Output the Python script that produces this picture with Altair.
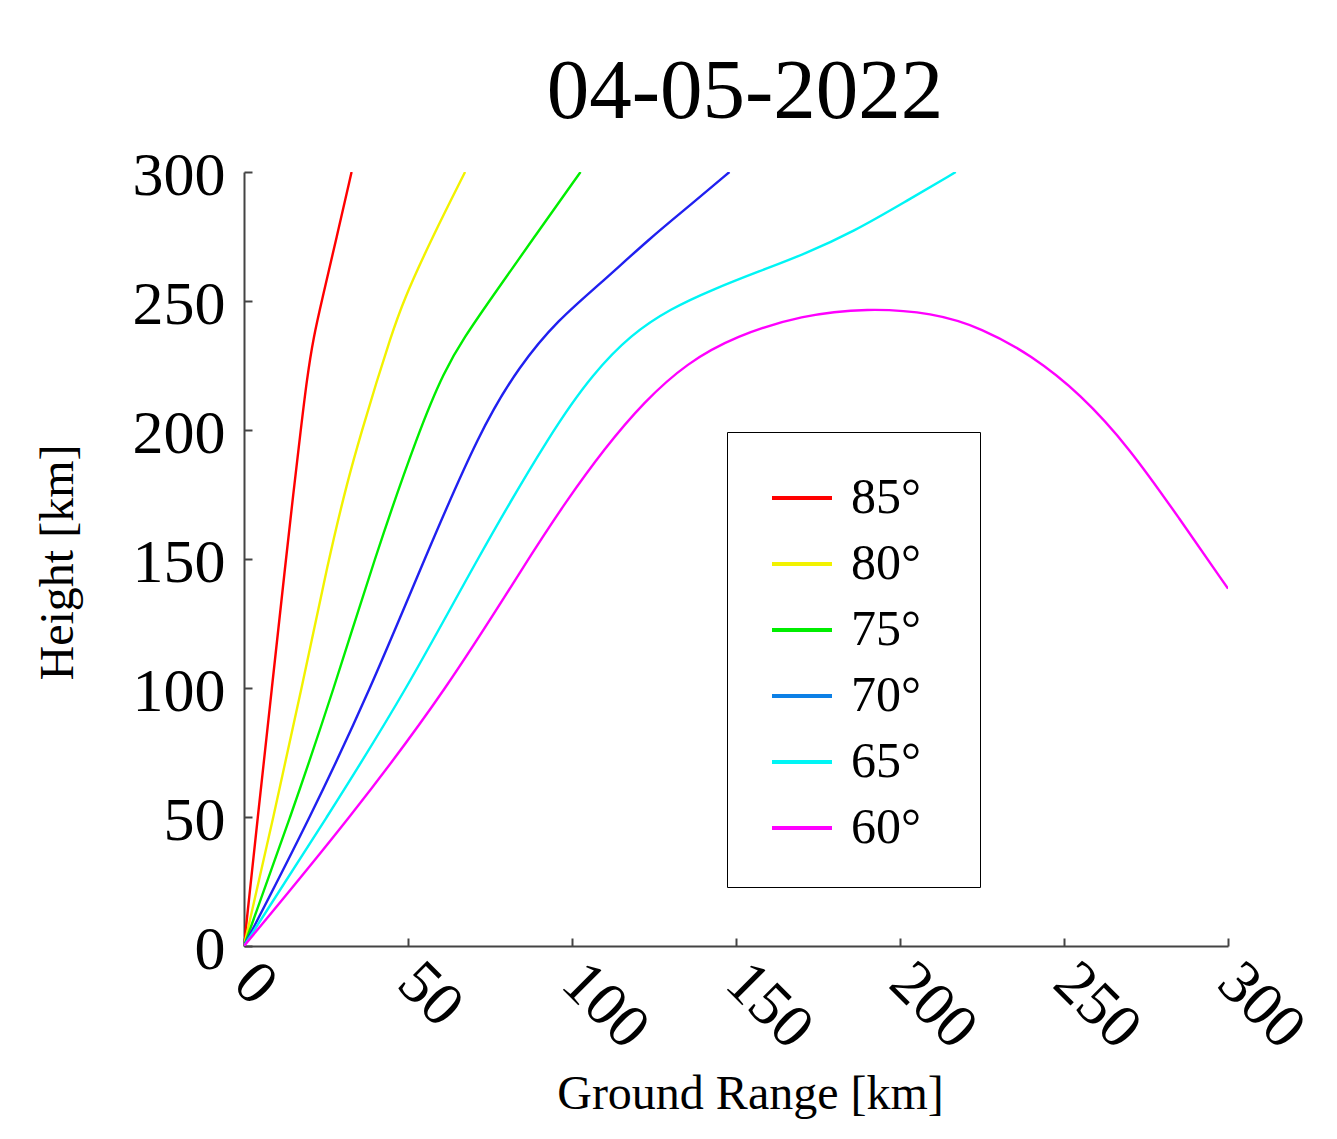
import altair as alt
import pandas as pd

FONT = "Liberation Serif"

title_text = ["04-05-2022"]

angles = ["85°", "80°", "75°", "70°", "65°", "60°"]
line_colors = ["#ff0000", "#f2f200", "#00ee00", "#2020f0", "#00f5f5", "#ff00ff"]
legend_colors = ["#ff0000", "#f2f200", "#00ee00", "#0d80e6", "#00f5f5", "#ff00ff"]

x85 = [0, 4.2, 8.5, 12.8, 15.0, 17.3, 19.2, 21.2, 23.7, 28.3, 32.8]
y85 = [0, 50, 100, 150, 175, 200, 220, 236, 250, 275, 300]

x80 = [0, 9.0, 17.6, 25.8, 31.5, 36.0, 40.5, 44.5, 48.5, 57.5, 67.4]
y80 = [0, 50, 100, 150, 180, 200, 219, 235, 250, 275, 300]

x75 = [0, 14.2, 27.5, 39.7, 53.4, 61.1, 67.2, 74.8, 88.6, 102.6]
y75 = [0, 50, 100, 150, 200, 223, 236, 250, 275, 300]

x70 = [0, 20.3, 38.7, 55.0, 72.0, 84.0, 96.0, 108.0, 124.0, 136.4, 148.0]
y70 = [0, 50, 100, 150, 200, 225, 243, 256, 274.6, 287.5, 300]

x65 = [0, 25.4, 49.9, 71.0, 94.0, 106.5, 118.0, 130.0, 143.0, 157.0, 171.0, 186.0, 201.0, 217.0]
y65 = [0, 50, 100, 150, 200, 222, 237, 247, 254.5, 261.5, 268.2, 277, 288, 300]

x60 = [0, 32.6, 62.1, 86.6, 98.0, 110.0, 122.0, 135.0, 150.0, 170.0, 190.0, 210.0,
       225.0, 240.0, 255.0, 270.0, 285.0, 300.0]
y60 = [0, 50, 100, 150, 172, 193, 211, 226, 236.5, 244.5, 247.3, 245.5,
       239.5, 229, 214, 193, 166, 138.5]

tick_vals = [0, 50, 100, 150, 200, 250, 300]

rows = []
for a, xs, ys in zip(angles, [x85, x80, x75, x70, x65, x60], [y85, y80, y75, y70, y65, y60]):
    for i, (xv, yv) in enumerate(zip(xs, ys)):
        rows.append({"angle": a, "range": xv, "height": yv, "i": i})
df = pd.DataFrame(rows)

xscale = alt.Scale(domain=[0, 300], nice=False, zero=False)
yscale = alt.Scale(domain=[0, 300], nice=False, zero=False)

lines = alt.Chart(df).mark_line(strokeWidth=2.4, interpolate="basis", clip=True).encode(
    x=alt.X("range:Q", scale=xscale, axis=alt.Axis(
        orient="bottom", values=tick_vals, ticks=False, tickSize=0, grid=False, domain=True,
        domainColor="#444444", domainWidth=2,
        labelFont=FONT, labelFontSize=62, labelColor="black", labelAngle=45,
        labelAlign="left", labelBaseline="middle", labelPadding=26,
        labelFlush=False, labelOverlap=False,
        title="Ground Range [km]", titleFont=FONT, titleFontSize=48,
        titleFontWeight="normal", titleColor="black", titleX=506, titleY=162,
        titleAlign="center", titleBaseline="alphabetic")),
    y=alt.Y("height:Q", scale=yscale, axis=alt.Axis(
        orient="left", values=tick_vals, ticks=False, tickSize=0, grid=False, domain=True,
        domainColor="#444444", domainWidth=2,
        labelFont=FONT, labelFontSize=62, labelColor="black", labelPadding=19,
        labelBaseline="middle", labelOffset=3, labelFlush=False, labelOverlap=False,
        title="Height [km]", titleFont=FONT, titleFontSize=48,
        titleFontWeight="normal", titleColor="black", titleX=-172, titleY=390,
        titleAngle=270, titleAlign="center", titleBaseline="alphabetic")),
    color=alt.Color("angle:N", scale=alt.Scale(domain=angles, range=line_colors), legend=None),
    order=alt.Order("i:Q"),
)

# inward ticks: an opposite-side axis moved onto the plot edge, ticks pointing into the plot
legend_layer = alt.Chart(df).transform_filter("false").mark_line(strokeWidth=4).encode(
    x=alt.X("range:Q", scale=xscale, axis=alt.Axis(
        orient="top", values=tick_vals, domain=False, labels=False, grid=False, ticks=True,
        tickSize=8, tickWidth=2, tickColor="#444444", offset=-774, title=None)),
    y=alt.Y("height:Q", scale=yscale, axis=alt.Axis(
        orient="right", values=tick_vals, domain=False, labels=False, grid=False, ticks=True,
        tickSize=8, tickWidth=2, tickColor="#444444", offset=-984, title=None)),
    color=alt.Color("angle:N", scale=alt.Scale(domain=angles, range=legend_colors),
                    legend=alt.Legend(
                        title=None, orient="none", legendX=483, legendY=260,
                        padding=34, strokeColor="black", fillColor="white",
                        symbolType="stroke", symbolSize=3600, symbolStrokeWidth=4,
                        symbolOffset=9, labelOffset=17, labelFont=FONT,
                        labelFontSize=50, labelColor="black", rowPadding=9,
                        labelExpr="datum.label + '\u00a0\u00a0\u200b'")),
)

title_df = pd.DataFrame({"label": title_text})
title_layer = alt.Chart(title_df).mark_text(
    font=FONT, fontSize=85, color="black", align="center", baseline="alphabetic"
).encode(
    text="label:N",
    x=alt.value(501),
    y=alt.value(-54),
)

chart = alt.layer(lines, legend_layer, title_layer).resolve_scale(
    color="independent"
).resolve_axis(
    x="independent", y="independent"
).properties(
    width=984, height=774,
    autosize=alt.AutoSizeParams(type="none"),
    padding={"left": 236, "top": 164, "right": 100, "bottom": 180},
).configure_view(strokeWidth=0)

chart.save("out.html", embed_options={"renderer": "svg", "actions": False})
